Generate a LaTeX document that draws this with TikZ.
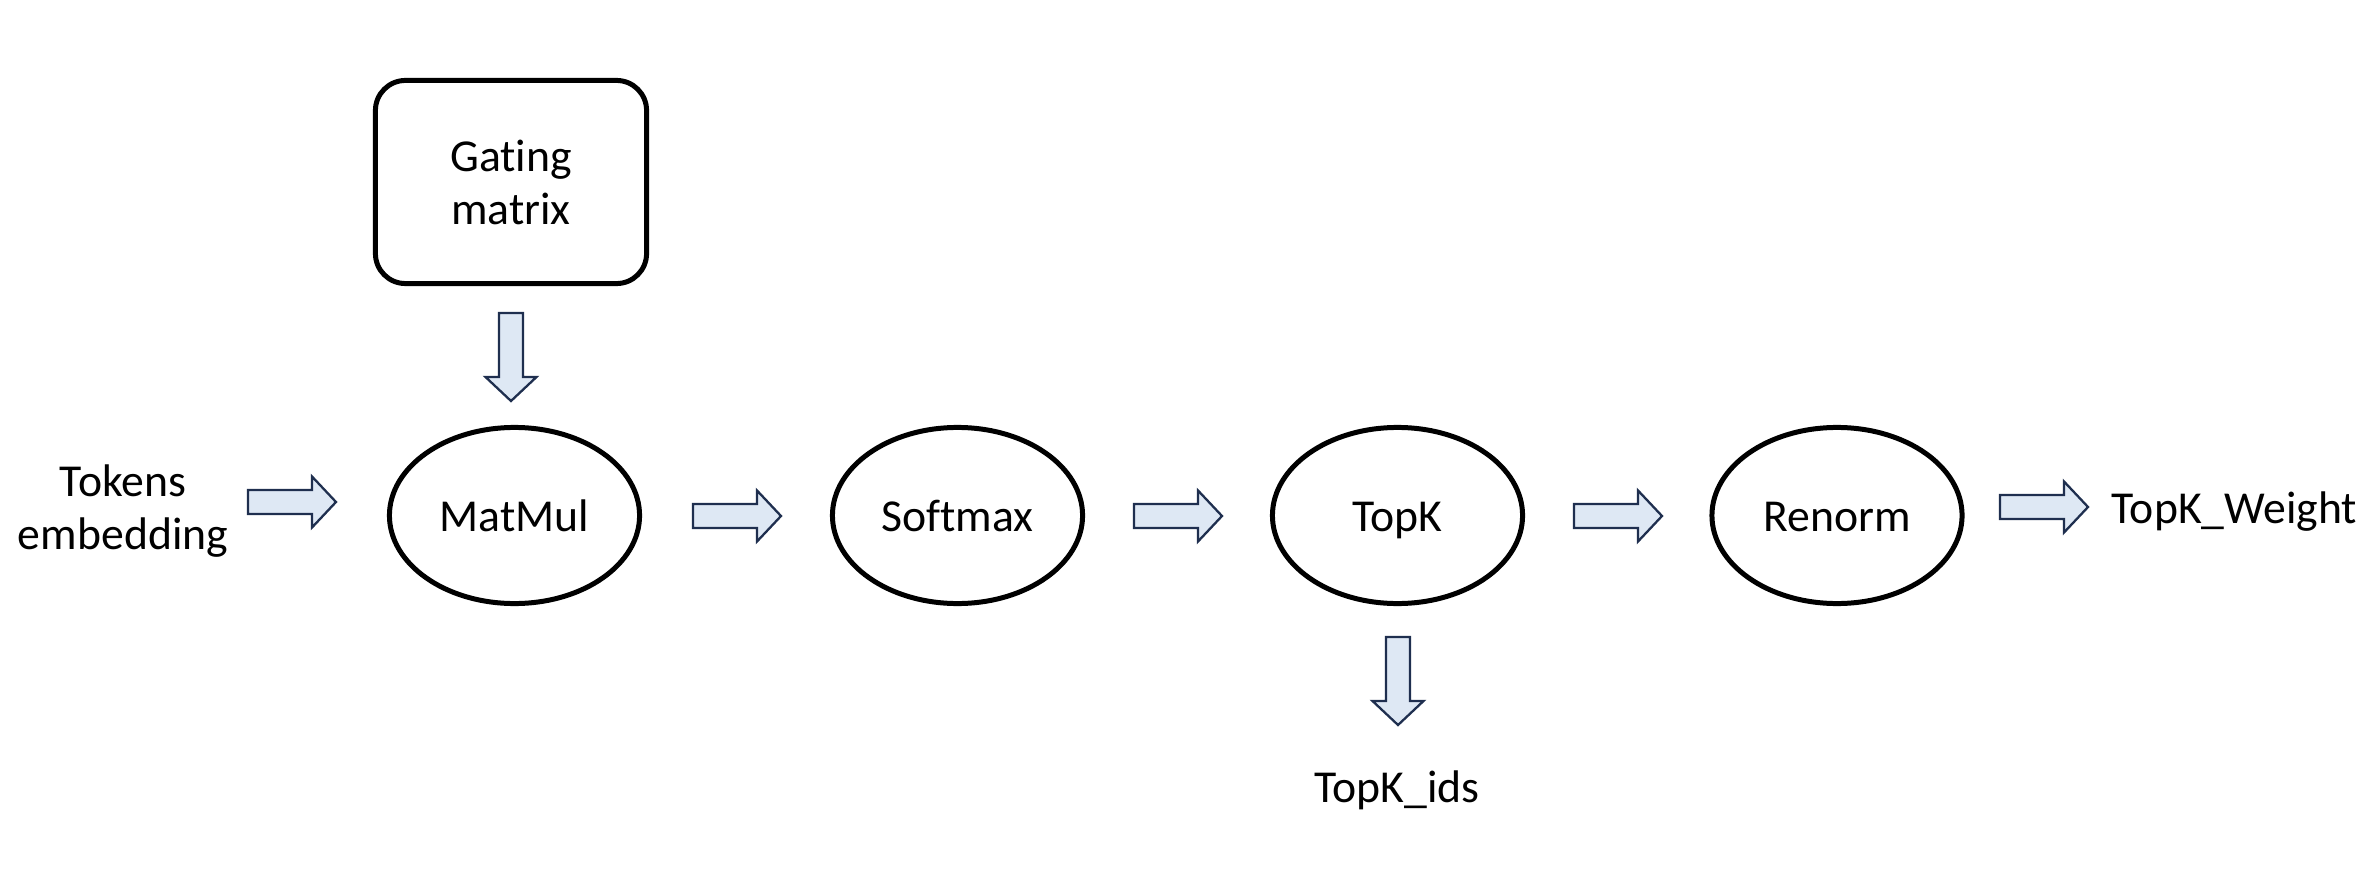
\documentclass[tikz,border=0pt]{standalone}
\usepackage{fontspec}
\setmainfont{Carlito}[Ligatures=NoCommon]
\usetikzlibrary{shapes.geometric}
\definecolor{afill}{HTML}{DEE8F4}
\definecolor{aline}{HTML}{1F2F4F}
\tikzset{
  pics/rarrow/.style={code={
    \path[barrow] (0,-12) -- (64,-12) -- (64,-25.5) -- (88,0) -- (64,25.5) -- (64,12) -- (0,12) -- cycle;}},
  pics/darrow/.style={code={
    \path[barrow] (-12,0) -- (-12,64) -- (-25.5,64) -- (0,88) -- (25.5,64) -- (12,64) -- (12,0) -- cycle;}},
}
\begin{document}
\begin{tikzpicture}[x=0.01cm,y=-0.01cm,
  font=\fontsize{13}{15.1}\selectfont,
  op/.style={ellipse,draw=black,line width=1.42pt,minimum width=2.50cm,minimum height=1.76cm,
             inner sep=0pt,text height=0.31cm,text depth=0pt},
  gbox/.style={draw=black,line width=1.42pt,rounded corners=0.3cm,minimum width=2.71cm,
               minimum height=2.03cm,align=center,inner sep=0pt},
  lbl/.style={inner sep=0pt,align=center},
  barrow/.style={draw=aline,fill=afill,line width=0.65pt,line join=miter}]
\useasboundingbox (0,0) rectangle (2376,882);
\node[gbox] (gate) at (511,182) {Gating\\matrix};
\node[lbl] (tok) at (123,511) {Tokens\\embedding};
\node[op] (mm) at (514.5,515.5) {MatMul};
\node[op] (sm) at (957.5,515.5) {Softmax};
\node[op] (tk) at (1397.5,515.5) {TopK};
\node[op] (rn) at (1837,515.5) {Renorm};
\node[inner sep=0pt,anchor=base west] (w) at (2111,523) {TopK\_Weight};
\node[inner sep=0pt,anchor=base] (ids) at (1397,802) {TopK\_ids};
\pic at (248,502) {rarrow};
\pic at (693,516) {rarrow};
\pic at (1134,516) {rarrow};
\pic at (1574,516) {rarrow};
\pic at (2000,507) {rarrow};
\pic at (511,313) {darrow};
\pic at (1398,637) {darrow};
\end{tikzpicture}
\end{document}
